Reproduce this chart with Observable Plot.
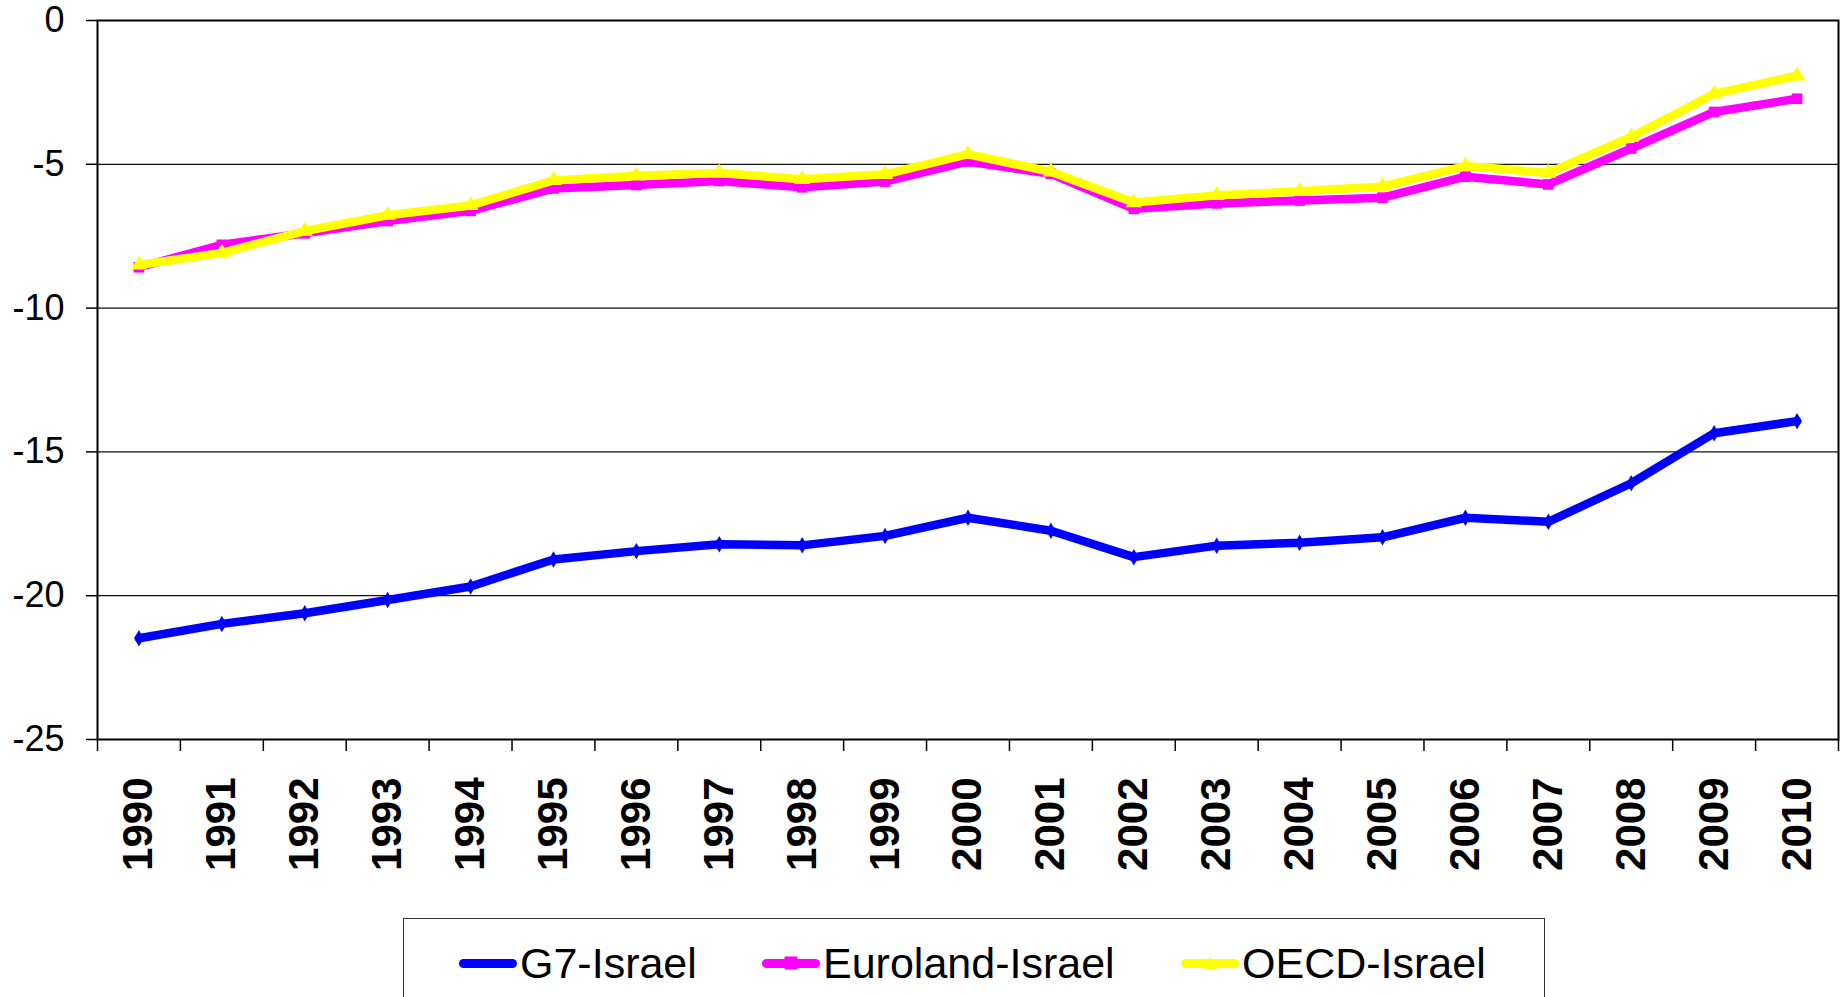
<!DOCTYPE html>
<html>
<head>
<meta charset="utf-8">
<script src="https://cdn.jsdelivr.net/npm/d3@7"></script>
<script src="https://cdn.jsdelivr.net/npm/@observablehq/plot@0.6"></script>
<style>
  html, body { margin: 0; padding: 0; background: #fff; }
  #wrap { position: relative; width: 1846px; height: 997px; overflow: hidden; font-family: "Liberation Sans", Arial, sans-serif; }
  #legend { position: absolute; left: 403px; top: 918px; width: 1142px; height: 120px; border: 1.5px solid #333; box-sizing: border-box; }
  .item { position: absolute; top: 20px; height: 48px; display: flex; align-items: center; font-size: 43px; color: #000; white-space: nowrap; }
  .sw { position: relative; width: 58px; height: 9px; border-radius: 4.5px; margin-right: 3px; }
  .mk { position: absolute; left: 50%; top: 50%; transform: translate(-50%, -50%); }
</style>
</head>
<body>
<div id="wrap">
  <div id="chart"></div>
  <div id="legend"></div>
</div>
<script>
const years = [1990,1991,1992,1993,1994,1995,1996,1997,1998,1999,2000,2001,2002,2003,2004,2005,2006,2007,2008,2009,2010];
const g7 = [-21.48,-20.98,-20.61,-20.15,-19.68,-18.74,-18.45,-18.21,-18.25,-17.92,-17.29,-17.74,-18.66,-18.26,-18.16,-17.97,-17.29,-17.43,-16.09,-14.35,-13.93];
const euroland = [-8.58,-7.80,-7.40,-6.97,-6.62,-5.84,-5.72,-5.58,-5.80,-5.60,-4.90,-5.33,-6.55,-6.36,-6.26,-6.16,-5.43,-5.70,-4.45,-3.18,-2.72];
const oecd = [-8.50,-8.08,-7.32,-6.77,-6.43,-5.56,-5.40,-5.30,-5.52,-5.35,-4.65,-5.26,-6.33,-6.08,-5.94,-5.77,-5.06,-5.30,-4.05,-2.55,-1.92];
const seriesNames = ["G7-Israel", "Euroland-Israel", "OECD-Israel"];
const seriesColors = ["#0000FF", "#FF00FF", "#FFFF00"];
const seriesSymbols = ["diamond", "square", "triangle"];
const yTicks = [0, -5, -10, -15, -20, -25];
const gridValues = [-5, -10, -15, -20];

const seriesValues = [g7, euroland, oecd];
const rows = [];
seriesNames.forEach((name, i) => {
  years.forEach((yr, j) => rows.push({series: name, year: yr, value: seriesValues[i][j]}));
});
const boundaries = years.map(y => y - 0.5).concat([years[years.length - 1] + 0.5]);

const W = 1846, H = 918;
const marks = [
  Plot.ruleY(gridValues, {stroke: "#111", strokeWidth: 1.3}),
  Plot.axisY({ticks: yTicks, tickSize: 11, tickPadding: 22, fontSize: 36, tickFormat: d => String(d), label: null, strokeWidth: 1.5}),
  Plot.axisX({ticks: boundaries, tickSize: 12, tickFormat: () => "", label: null, strokeWidth: 1.5}),
  Plot.axisX({ticks: years, tickSize: 0, tickPadding: 38, tickRotate: -90, fontSize: 42, fontWeight: "bold", tickFormat: d => String(d), label: null})
];
seriesNames.forEach((name, i) => {
  const d = rows.filter(r => r.series === name);
  marks.push(Plot.line(d, {x: "year", y: "value", stroke: seriesColors[i], strokeWidth: 8.5, strokeLinejoin: "round"}));
  marks.push(Plot.dot(d, {x: "year", y: "value", symbol: () => seriesSymbols[i], fill: seriesColors[i], stroke: "none", r: i === 0 ? 5 : 6}));
});
marks.push(Plot.frame({stroke: "#000", strokeWidth: 2}));

const chart = Plot.plot({
  width: W,
  height: H,
  marginLeft: 97,
  marginRight: 8,
  marginTop: 20,
  marginBottom: H - 739,
  style: {fontFamily: "'Liberation Sans', Arial, sans-serif", color: "#000", background: "#fff", overflow: "visible"},
  x: {domain: [years[0] - 0.5, years[years.length - 1] + 0.5], axis: null},
  y: {domain: [-25, 0], axis: null},
  marks
});
document.getElementById("chart").appendChild(chart);

// Legend
const legend = document.getElementById("legend");
const itemLeft = [55, 358, 777];
const markerCss = [
  "width:0;height:0;",
  "width:13px;height:13px;",
  "width:0;height:0;border-left:7px solid transparent;border-right:7px solid transparent;border-bottom:12px solid #FFFF00;"
];
seriesNames.forEach((name, i) => {
  const it = document.createElement("div");
  it.className = "item";
  it.style.left = itemLeft[i] + "px";
  const sw = document.createElement("div");
  sw.className = "sw";
  sw.style.background = seriesColors[i];
  const mk = document.createElement("div");
  mk.className = "mk";
  mk.style.cssText += markerCss[i];
  if (i === 1) mk.style.background = seriesColors[i];
  sw.appendChild(mk);
  const tx = document.createElement("span");
  tx.textContent = name;
  it.appendChild(sw);
  it.appendChild(tx);
  legend.appendChild(it);
});
</script>
</body>
</html>
